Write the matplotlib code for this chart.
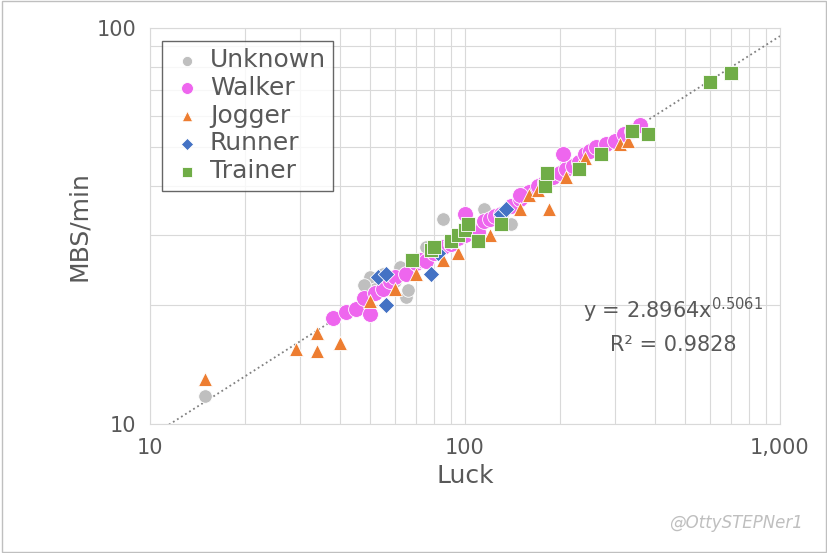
import matplotlib
matplotlib.use("Agg")
import matplotlib.pyplot as plt
import numpy as np
from matplotlib.ticker import FixedLocator, NullFormatter
from matplotlib.patches import Rectangle

unk_x = [15, 50, 52, 55, 62, 65, 66, 75, 80, 85, 100, 115, 140, 60, 48]
unk_y = [11.8, 23.5, 22, 24, 25, 21, 21.8, 28, 27, 33, 30, 35, 32, 23, 22.5]
walk_x = [38, 42, 45, 48, 50, 52, 55, 58, 60, 65, 70, 72, 75, 80, 85, 90, 95, 100, 105, 110, 115, 120, 125, 130, 140, 150, 160, 170, 180, 190, 200, 210, 220, 230, 240, 250, 260, 280, 300, 320, 340, 360, 100, 150, 205]
walk_y = [18.5, 19.2, 19.5, 20.8, 19.0, 21.5, 22, 23, 23.5, 24, 25.5, 26, 25.8, 27, 28, 28.5, 29.5, 30, 31, 30.5, 32.5, 33, 33.5, 34, 35.5, 37, 38.5, 40, 41, 42, 43, 44, 45, 46, 48, 49, 50, 51, 52, 54, 55, 57, 34, 38, 48]
jog_x = [15, 29, 34, 34, 40, 50, 60, 70, 85, 95, 120, 150, 160, 170, 185, 210, 230, 240, 310, 330]
jog_y = [13, 15.5, 15.3, 17, 16, 20.5, 22, 24, 26, 27, 30, 35, 38, 39, 35, 42, 45, 47, 51, 52]
run_x = [53, 56, 56, 78, 82, 90, 130, 135]
run_y = [23.5, 24, 20, 24, 27, 29, 34, 35]
tr_x = [68, 78, 80, 90, 95, 100, 102, 110, 130, 180, 182, 230, 270, 340, 380, 600, 700]
tr_y = [26, 27.5, 28, 29, 30, 31, 32, 29, 32, 40, 43, 44, 48, 55, 54, 73, 77]
coef_a, coef_b = 2.8964, 0.5061

fig = plt.figure(figsize=(8.28, 5.53), dpi=100)
fig.patches.append(Rectangle((0.002, 0.002), 0.996, 0.996, transform=fig.transFigure,
                             fill=False, edgecolor="#bfbfbf", lw=1))
ax = fig.add_axes([0.181, 0.233, 0.761, 0.716])
ax.set_xscale("log"); ax.set_yscale("log")
ax.set_xlim(10, 1000); ax.set_ylim(10, 100)
ax.grid(True, which="both", color="#d9d9d9", lw=0.8)
ax.set_axisbelow(True)
for s in ax.spines.values():
    s.set_color("#d9d9d9")

tx = np.array([11.5, 1000])
ax.plot(tx, coef_a * tx ** coef_b, ls=":", color="#808080", lw=1.3, zorder=1)

kw = dict(edgecolor="white", linewidths=0.6, zorder=3)
ax.scatter(unk_x, unk_y, s=95, c="#bfbfbf", marker="o", label="Unknown", **kw)
ax.scatter(walk_x, walk_y, s=130, c="#ee66ee", marker="o", label="Walker", **kw)
ax.scatter(jog_x, jog_y, s=100, c="#ed7d31", marker="^", label="Jogger", **kw)
ax.scatter(run_x, run_y, s=70, c="#4472c4", marker="D", label="Runner", **kw)
ax.scatter(tr_x, tr_y, s=110, c="#70ad47", marker="s", label="Trainer", **kw)

ax.xaxis.set_major_locator(FixedLocator([10, 100, 1000]))
ax.set_xticklabels(["10", "100", "1,000"])
ax.yaxis.set_major_locator(FixedLocator([10, 100]))
ax.set_yticklabels(["10", "100"])
ax.xaxis.set_minor_formatter(NullFormatter()); ax.yaxis.set_minor_formatter(NullFormatter())
ax.tick_params(which="both", length=0, labelsize=15, colors="#595959", pad=10)
ax.set_xlabel("Luck", fontsize=18, color="#595959")
ax.set_ylabel("MBS/min", fontsize=18, color="#595959")

leg = ax.legend(loc="upper left", fontsize=18, frameon=True, fancybox=False,
                edgecolor="#404040", handletextpad=0.2, borderaxespad=0.5,
                labelspacing=0.15, markerscale=0.75, borderpad=0.3, handlelength=1.4)
for t in leg.get_texts():
    t.set_color("#595959")

ax.text(0.83, 0.25, r"y = 2.8964x$^{0.5061}$" + "\n" + "R² = 0.9828", transform=ax.transAxes,
        ha="center", va="center", fontsize=15, color="#595959", linespacing=1.6)
fig.text(0.97, 0.055, "@OttySTEPNer1", ha="right", va="center", fontsize=12, color="#bfbfbf", style="italic")
fig.savefig("out.png", dpi=100)
